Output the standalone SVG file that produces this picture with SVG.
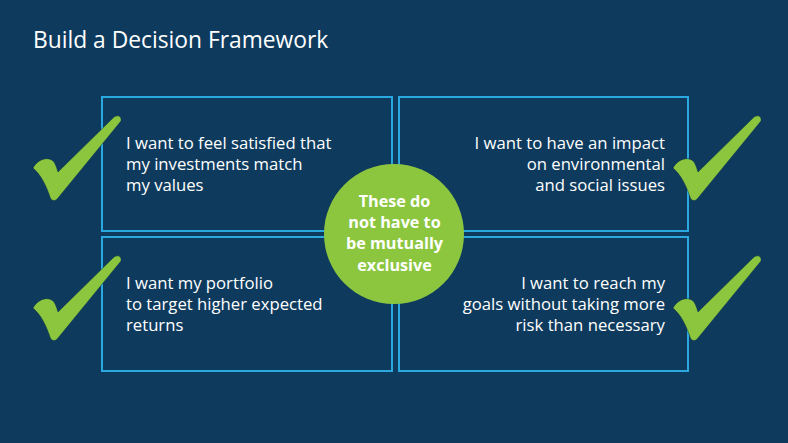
<svg xmlns="http://www.w3.org/2000/svg" width="788" height="443" viewBox="0 0 788 443">
  <defs>
    <style>
      .box { fill: none; stroke: #2aa9e0; stroke-width: 2; }
      .txt { font-family: "Open Sans", Lato, "Liberation Sans", sans-serif; font-size: 16.7px; fill: #ffffff; }
      .ctr { font-family: "Open Sans", Lato, "Liberation Sans", sans-serif; font-size: 16.2px; font-weight: bold; fill: #ffffff; text-anchor: middle; }
      .title { font-family: "Open Sans", Lato, "Liberation Sans", sans-serif; font-size: 22.8px; fill: #ffffff; }
      .check { fill: #8cc63f; stroke: #0a2f4a; stroke-width: 1; stroke-opacity: 0.5; }
    </style>
    <path id="tick" d="M 33,168 C 37,160 48,155 54,162 C 56,165 57,169 58,172 L 113,118 C 117,114 122,116 121,121 L 58,198 C 55,202 51,201 50,197 C 46,185 41,175 33,168 Z"/>
  </defs>
  <rect x="0" y="0" width="788" height="443" fill="#0e3b5d"/>
  <text class="title" x="33" y="48">Build a Decision Framework</text>

  <g id="box-top-left">
    <rect class="box" x="102" y="97" width="290" height="134"/>
    <text class="txt" x="126" y="149">I want to feel satisfied that</text>
    <text class="txt" x="126" y="170">my investments match</text>
    <text class="txt" x="126" y="191">my values</text>
  </g>
  <g id="box-top-right">
    <rect class="box" x="399" y="97" width="289" height="134"/>
    <text class="txt" x="665" y="149" text-anchor="end">I want to have an impact</text>
    <text class="txt" x="665" y="170" text-anchor="end">on environmental</text>
    <text class="txt" x="665" y="191" text-anchor="end">and social issues</text>
  </g>
  <g id="box-bottom-left">
    <rect class="box" x="102" y="237" width="290" height="134"/>
    <text class="txt" x="126" y="289">I want my portfolio</text>
    <text class="txt" x="126" y="310">to target higher expected</text>
    <text class="txt" x="126" y="331">returns</text>
  </g>
  <g id="box-bottom-right">
    <rect class="box" x="399" y="237" width="289" height="134"/>
    <text class="txt" x="665" y="289" text-anchor="end">I want to reach my</text>
    <text class="txt" x="665" y="310" text-anchor="end">goals without taking more</text>
    <text class="txt" x="665" y="331" text-anchor="end">risk than necessary</text>
  </g>

  <g id="check-top-left"><use href="#tick" class="check"/></g>
  <g id="check-top-right"><use href="#tick" class="check" transform="translate(640,0)"/></g>
  <g id="check-bottom-left"><use href="#tick" class="check" transform="translate(0,140)"/></g>
  <g id="check-bottom-right"><use href="#tick" class="check" transform="translate(640,140)"/></g>

  <g id="center-circle">
    <circle cx="394" cy="234" r="70" fill="#8cc63f"/>
    <text class="ctr" x="394.5" y="207">These do</text>
    <text class="ctr" x="394.5" y="228">not have to</text>
    <text class="ctr" x="394.5" y="249">be mutually</text>
    <text class="ctr" x="394.5" y="270.5">exclusive</text>
  </g>
</svg>
